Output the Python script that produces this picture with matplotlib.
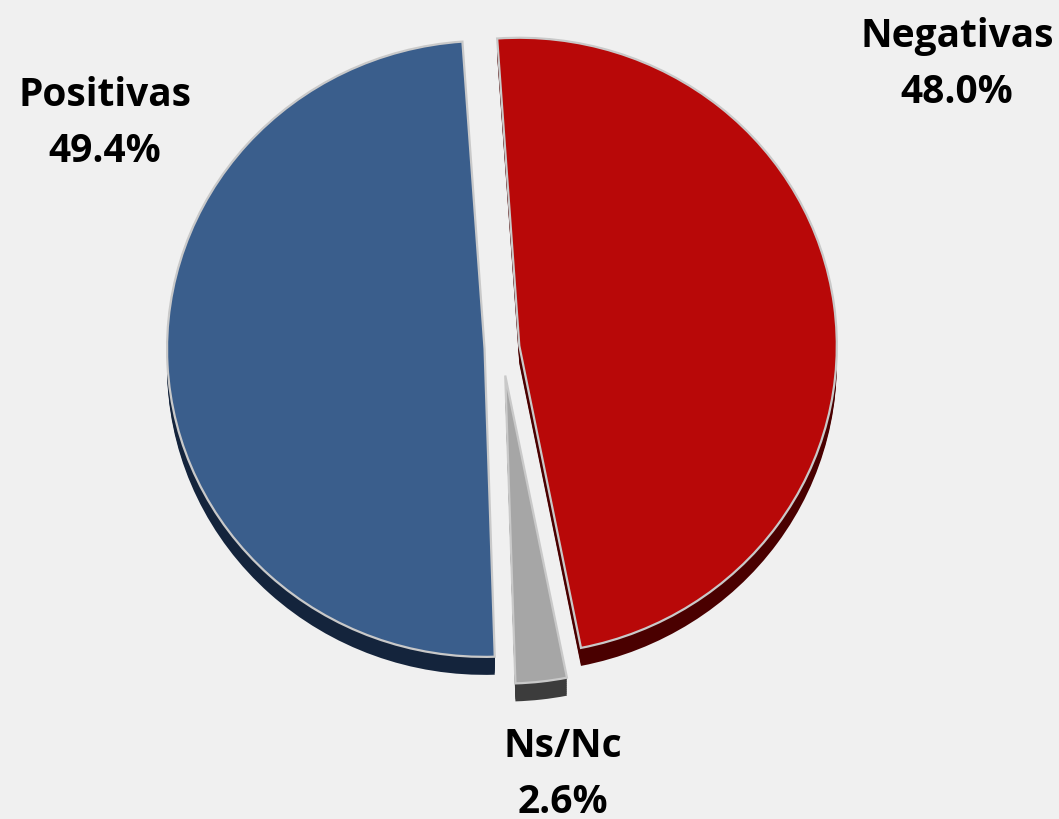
import matplotlib
matplotlib.use("Agg")
import matplotlib.pyplot as plt

labels = ["Negativas", "Ns/Nc", "Positivas"]
values = [48.0, 2.6, 49.4]
colors = ["#b80808", "#a6a6a6", "#3a5e8c"]
side_colors = ["#4a0000", "#3c3c3c", "#14243c"]
explode = [0.055, 0.09, 0.055]

W, H = 1059, 820
fig = plt.figure(figsize=(W / 100, H / 100), dpi=100)
fig.patch.set_facecolor("#f0f0f0")
ax = fig.add_axes([0, 0, 1, 1])
ax.set_facecolor("#f0f0f0")

# pixel geometry of the ellipse
cx, cy, rx, ry = 502, 349, 317.5, 308
depth = 18

for k in range(depth, 0, -2):
    ax.pie(values, colors=side_colors, explode=explode, startangle=94,
           counterclock=False, center=(0, -k / ry),
           wedgeprops=dict(linewidth=0))
ax.pie(values, colors=colors, explode=explode, startangle=94,
       counterclock=False, center=(0, 0),
       wedgeprops=dict(linewidth=1.6, edgecolor="#c9c9c9"))

ax.set_aspect("auto")
ax.set_xlim(-cx / rx, (W - cx) / rx)
ax.set_ylim(-(H - cy) / ry, cy / ry)
ax.axis("off")

font = dict(family=["Open Sans", "DejaVu Sans"], fontweight="bold",
            fontsize=28, color="black", ha="center", va="baseline")
label_pos = {"Positivas": (105, 106, 162), "Negativas": (957, 47, 103),
             "Ns/Nc": (563, 757, 813)}
for lab, v in zip(labels, values):
    x, y1, y2 = label_pos[lab]
    fig.text(x / W, 1 - y1 / H, lab, **font)
    fig.text(x / W, 1 - y2 / H, f"{v:.1f}%", **font)

fig.savefig("out.png", dpi=100, facecolor=fig.get_facecolor())
